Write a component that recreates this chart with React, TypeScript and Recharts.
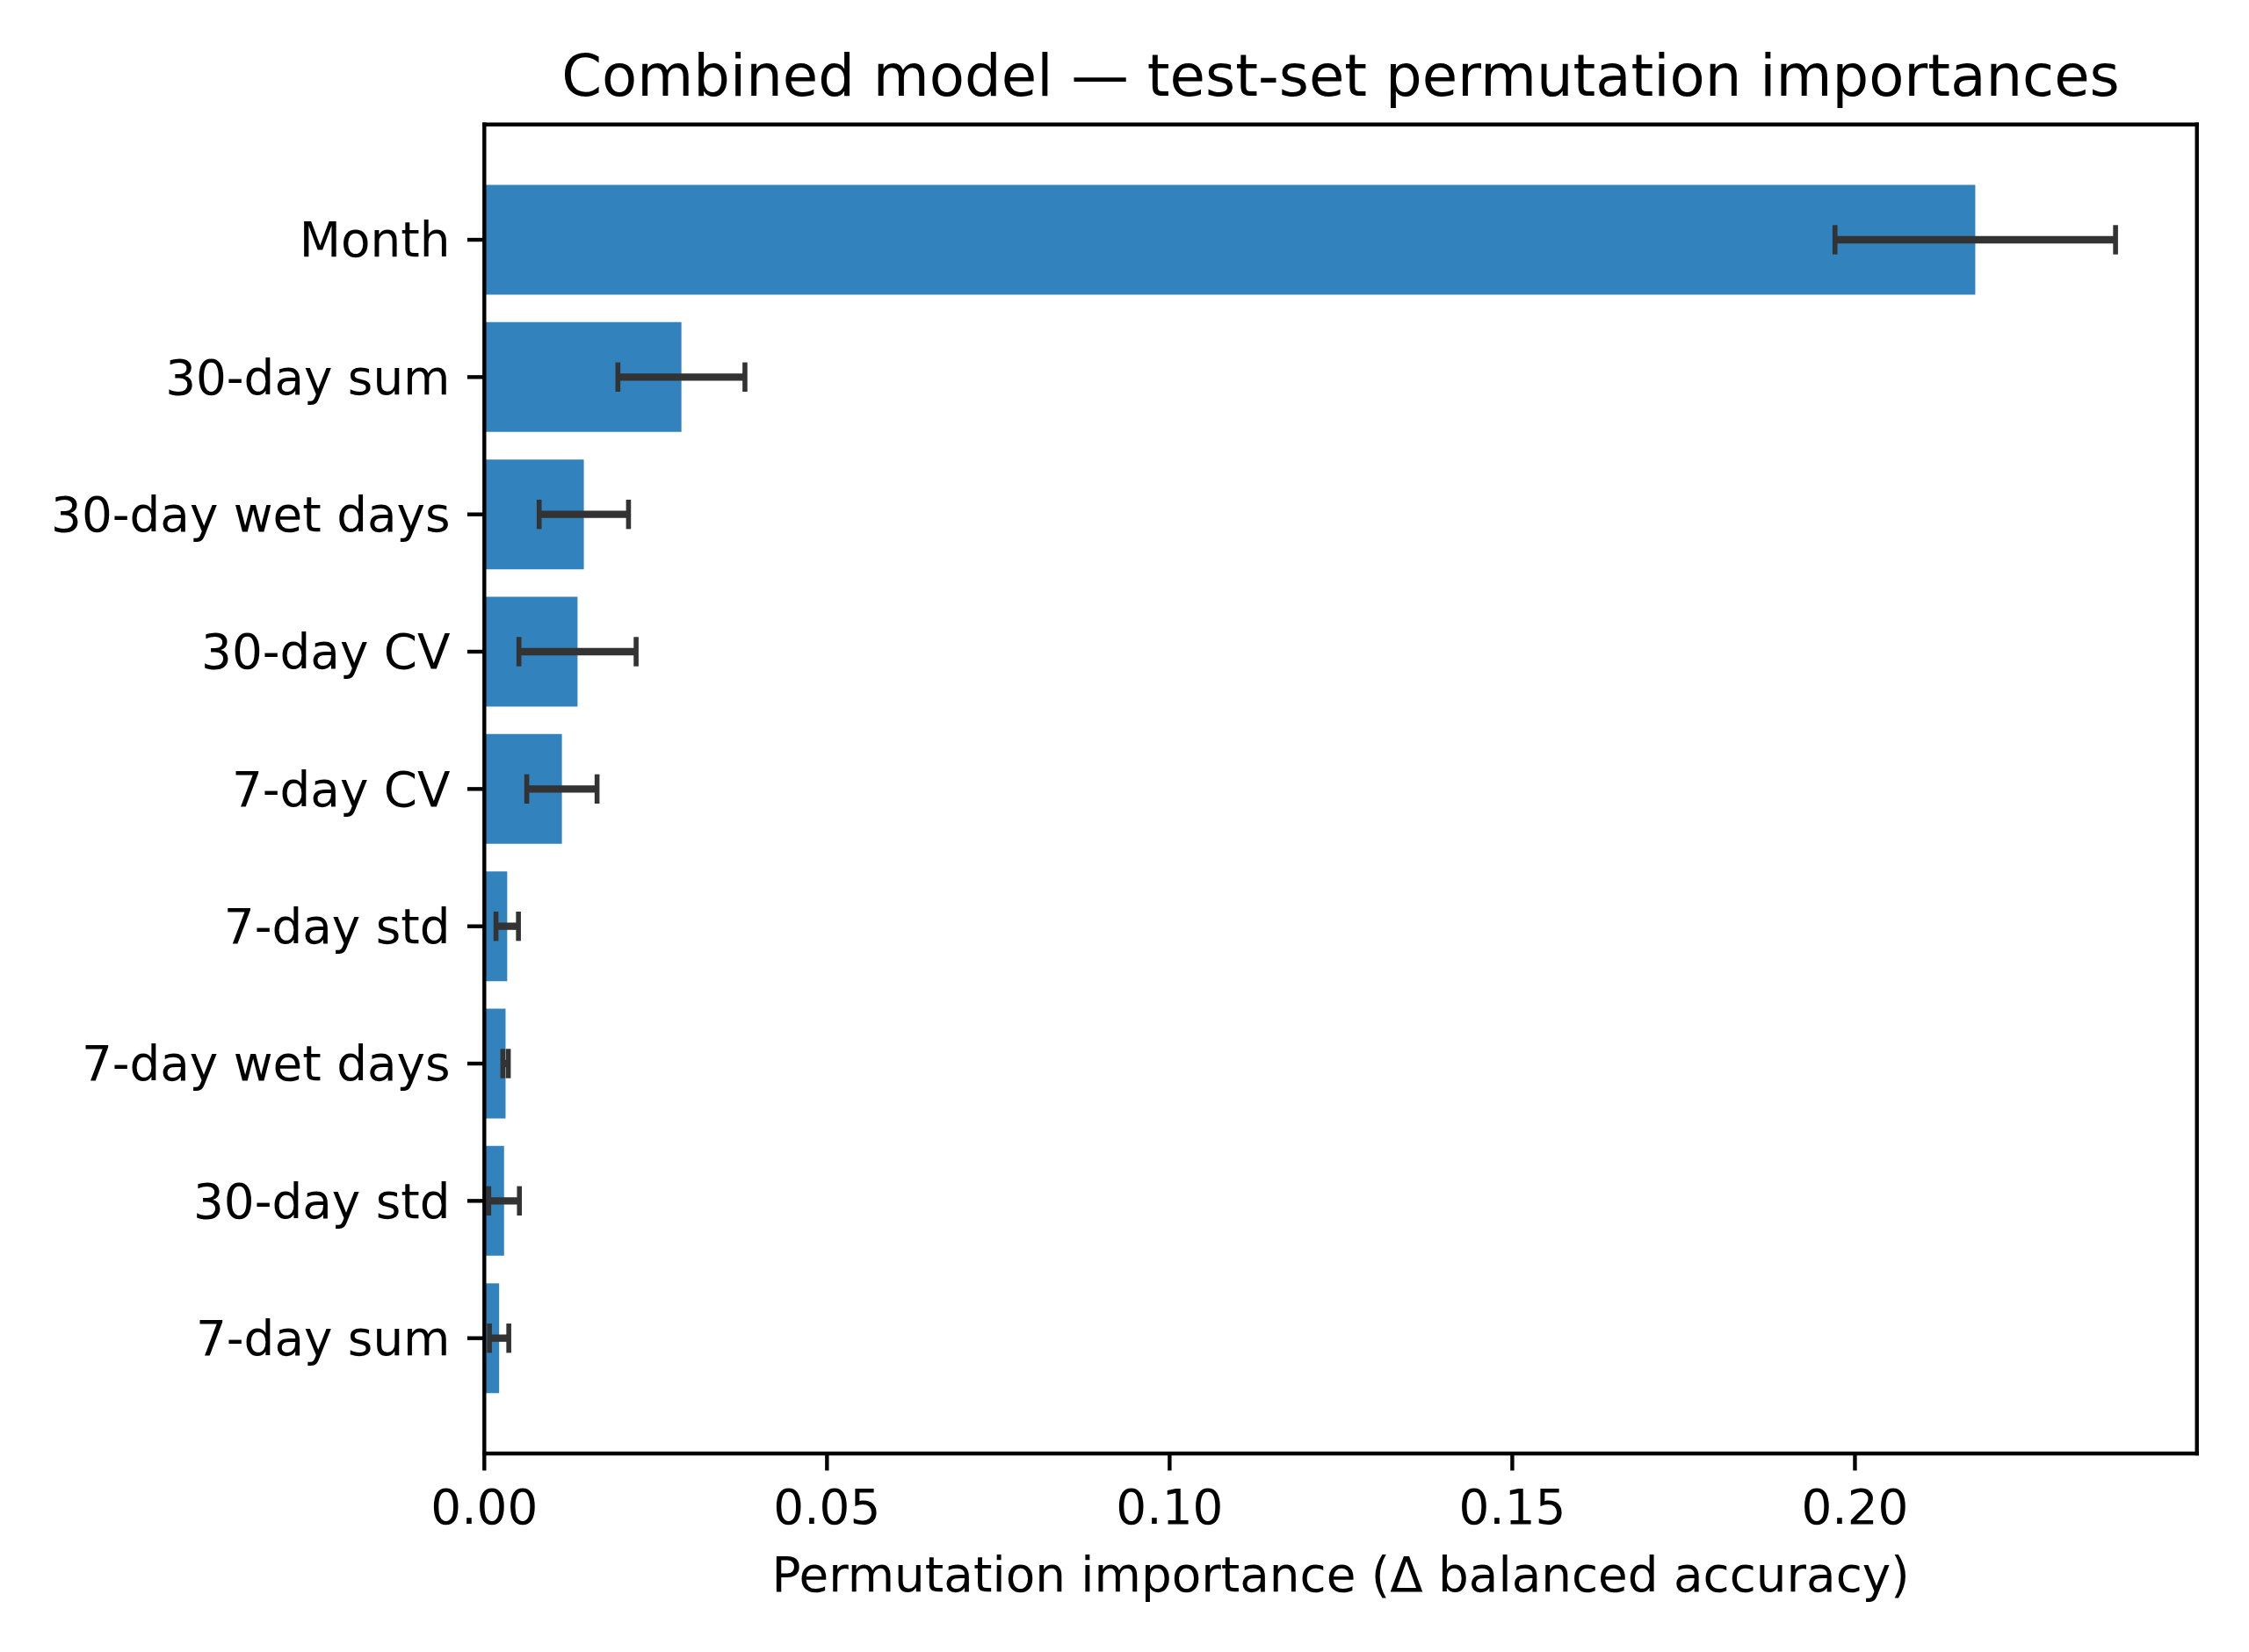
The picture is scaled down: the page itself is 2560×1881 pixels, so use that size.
import React from 'react';
import { BarChart, Bar, XAxis, YAxis, ErrorBar, CartesianGrid } from 'recharts';

const features = [
  'Month',
  '30-day sum',
  '30-day wet days',
  '30-day CV',
  '7-day CV',
  '7-day std',
  '7-day wet days',
  '30-day std',
  '7-day sum',
];
const importances = [0.21756, 0.02876, 0.01452, 0.0136, 0.01132, 0.00334, 0.0031, 0.00288, 0.00216];
const stds = [0.02047, 0.00927, 0.00652, 0.00855, 0.00513, 0.00164, 0.0004, 0.00224, 0.00141];
const xTicks = [0, 0.05, 0.1, 0.15, 0.2];
const xMax = 0.2499;

const titleText = 'Combined model — test-set permutation importances';
const xLabelText = 'Permutation importance (Δ balanced accuracy)';

const data = features.map((name, i) => ({ name, value: importances[i], err: stds[i] }));

const W = 2560;
const H = 1881;
const plotLeft = 551.3;
const plotTop = 141.7;
const plotRight = 2500.7;
const plotBottom = 1655;
const pitch = (plotBottom - plotTop) / 9.68;
const catPad = 0.34 * pitch;

const FONT = 'DejaVu Sans';
const lw = 4.4;
const fs = 54.8;

export default function App() {
  const cx = (plotLeft + plotRight) / 2;
  return (
    <div style={{ position: 'absolute', left: 0, top: 0, width: W, height: H, background: '#fff' }}>
      <BarChart
        width={W}
        height={H}
        data={data}
        layout="vertical"
        margin={{ top: plotTop, right: W - plotRight, bottom: 0, left: 0 }}
        barCategoryGap="10%"
      >
        <CartesianGrid
          horizontalPoints={[plotTop]}
          verticalPoints={[plotRight]}
          stroke="#000"
          strokeWidth={lw}
          strokeLinecap="square"
          strokeDasharray=""
        />
        <XAxis
          type="number"
          domain={[0, xMax]}
          ticks={xTicks}
          allowDataOverflow
          height={H - plotBottom}
          tickFormatter={(v: number) => v.toFixed(2)}
          tick={{ fontSize: fs, fill: '#000', fontFamily: FONT }}
          tickSize={19.4}
          tickMargin={22}
          tickLine={{ stroke: '#000', strokeWidth: lw }}
          axisLine={{ stroke: '#000', strokeWidth: lw, strokeLinecap: 'square' }}
        />
        <YAxis
          type="category"
          dataKey="name"
          width={plotLeft}
          padding={{ top: catPad, bottom: catPad }}
          interval={0}
          tick={{ fontSize: fs, fill: '#000', fontFamily: FONT }}
          tickSize={19.4}
          tickMargin={19.4}
          tickLine={{ stroke: '#000', strokeWidth: lw }}
          axisLine={{ stroke: '#000', strokeWidth: lw, strokeLinecap: 'square' }}
        />
        <Bar dataKey="value" fill="#3282bd" isAnimationActive={false}>
          <ErrorBar dataKey="err" direction="x" width={0} strokeWidth={8.3} stroke="#333333" isAnimationActive={false} />
          <ErrorBar dataKey="err" direction="x" width={16.7} strokeWidth={5.6} stroke="#333333" isAnimationActive={false} />
        </Bar>
      </BarChart>
      <svg
        width={W}
        height={H}
        style={{ position: 'absolute', left: 0, top: 0, pointerEvents: 'none' }}
      >
        <text x={cx} y={108.5} textAnchor="middle" fontFamily={FONT} fontSize={65.7} fill="#000">
          {titleText}
        </text>
        <text x={cx} y={1812} textAnchor="middle" fontFamily={FONT} fontSize={fs} fill="#000">
          {xLabelText}
        </text>
      </svg>
    </div>
  );
}
